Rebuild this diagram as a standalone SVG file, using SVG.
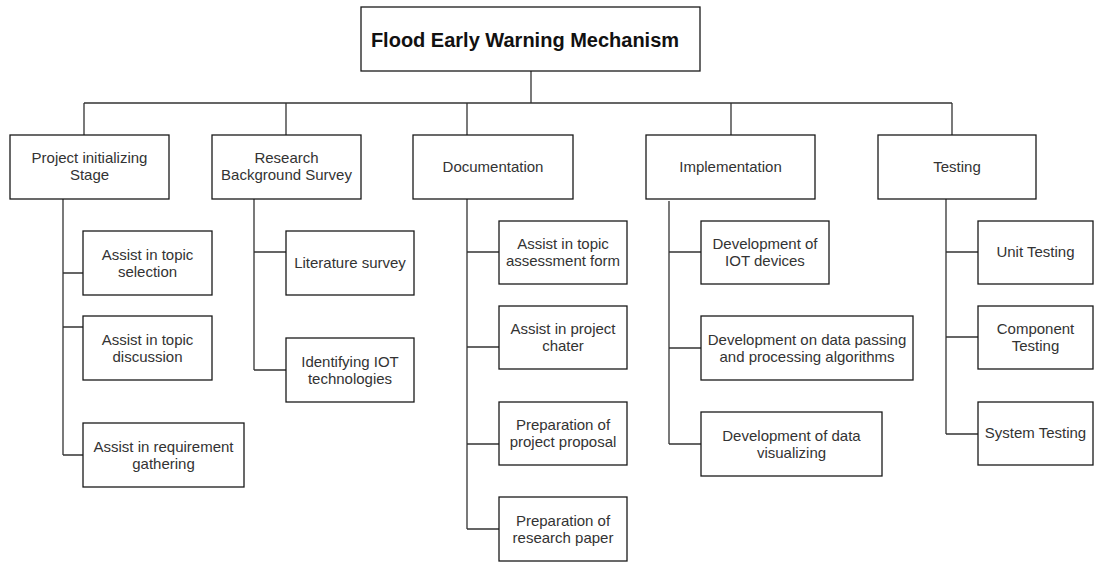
<svg xmlns="http://www.w3.org/2000/svg" width="1106" height="563" viewBox="0 0 1106 563">
<style>
.box{fill:#fff;stroke:#1a1a1a;stroke-width:1.3}
.t{font-family:"Liberation Sans",Arial,sans-serif;font-size:15px;fill:#333;text-anchor:middle}
.title{font-family:"Liberation Sans",Arial,sans-serif;font-size:20px;font-weight:bold;fill:#111;text-anchor:middle}
.c{fill:none;stroke:#333;stroke-width:1.3}
</style>
<rect width="1106" height="563" fill="#fff"/>
<g id="connectors">
<path class="c" d="M531,71V103M84,103H952M84,103V135M286,103V135M467,103V135M731,103V135M952,103V135"/>
<path class="c" d="M63,199V455M63,273H83M63,327H83M63,455H83"/>
<path class="c" d="M254,199V370M254,252H286M254,370H286"/>
<path class="c" d="M467,199V529M467,252H499M467,347H499M467,444H499M467,529H499"/>
<path class="c" d="M669,201V444M669,252H701M669,348H701M669,444H701"/>
<path class="c" d="M946,199V434M946,252H978M946,337H978M946,434H978"/>
</g>
<g id="root"><rect class="box" x="361" y="7" width="339" height="64"/><text class="title" x="525" y="47">Flood Early Warning Mechanism</text></g>
<g id="project"><rect class="box" x="10" y="135" width="159" height="64"/><text class="t" x="89.5" y="163">Project initializing</text><text class="t" x="89.5" y="180">Stage</text></g>
<g id="research"><rect class="box" x="212" y="135" width="149" height="64"/><text class="t" x="286.5" y="163">Research</text><text class="t" x="286.5" y="180">Background Survey</text></g>
<g id="documentation"><rect class="box" x="413" y="135" width="160" height="64"/><text class="t" x="493" y="172">Documentation</text></g>
<g id="implementation"><rect class="box" x="646" y="135" width="169" height="64"/><text class="t" x="730.5" y="172">Implementation</text></g>
<g id="testing"><rect class="box" x="878" y="135" width="158" height="64"/><text class="t" x="957" y="172">Testing</text></g>

<g id="p1"><rect class="box" x="83" y="231" width="129" height="64"/><text class="t" x="147.5" y="260">Assist in topic</text><text class="t" x="147.5" y="277">selection</text></g>
<g id="p2"><rect class="box" x="83" y="316" width="129" height="64"/><text class="t" x="147.5" y="345">Assist in topic</text><text class="t" x="147.5" y="362">discussion</text></g>
<g id="p3"><rect class="box" x="83" y="423" width="161" height="64"/><text class="t" x="163.5" y="452">Assist in requirement</text><text class="t" x="163.5" y="469">gathering</text></g>

<g id="r1"><rect class="box" x="286" y="231" width="128" height="64"/><text class="t" x="350" y="268">Literature survey</text></g>
<g id="r2"><rect class="box" x="286" y="338" width="128" height="64"/><text class="t" x="350" y="367">Identifying IOT</text><text class="t" x="350" y="384">technologies</text></g>

<g id="d1"><rect class="box" x="499" y="221" width="128" height="63"/><text class="t" x="563" y="249">Assist in topic</text><text class="t" x="563" y="266">assessment form</text></g>
<g id="d2"><rect class="box" x="499" y="306" width="128" height="63"/><text class="t" x="563" y="334">Assist in project</text><text class="t" x="563" y="351">chater</text></g>
<g id="d3"><rect class="box" x="499" y="402" width="128" height="63"/><text class="t" x="563" y="430">Preparation of</text><text class="t" x="563" y="447">project proposal</text></g>
<g id="d4"><rect class="box" x="499" y="497" width="128" height="64"/><text class="t" x="563" y="526">Preparation of</text><text class="t" x="563" y="543">research paper</text></g>

<g id="i1"><rect class="box" x="701" y="221" width="128" height="63"/><text class="t" x="765" y="249">Development of</text><text class="t" x="765" y="266">IOT devices</text></g>
<g id="i2"><rect class="box" x="701" y="316" width="212" height="64"/><text class="t" x="807" y="345">Development on data passing</text><text class="t" x="807" y="362">and processing algorithms</text></g>
<g id="i3"><rect class="box" x="701" y="412" width="181" height="64"/><text class="t" x="791.5" y="441">Development of data</text><text class="t" x="791.5" y="458">visualizing</text></g>

<g id="t1"><rect class="box" x="978" y="221" width="115" height="63"/><text class="t" x="1035.5" y="257">Unit Testing</text></g>
<g id="t2"><rect class="box" x="978" y="306" width="115" height="63"/><text class="t" x="1035.5" y="334">Component</text><text class="t" x="1035.5" y="351">Testing</text></g>
<g id="t3"><rect class="box" x="978" y="402" width="115" height="63"/><text class="t" x="1035.5" y="438">System Testing</text></g>
</svg>
